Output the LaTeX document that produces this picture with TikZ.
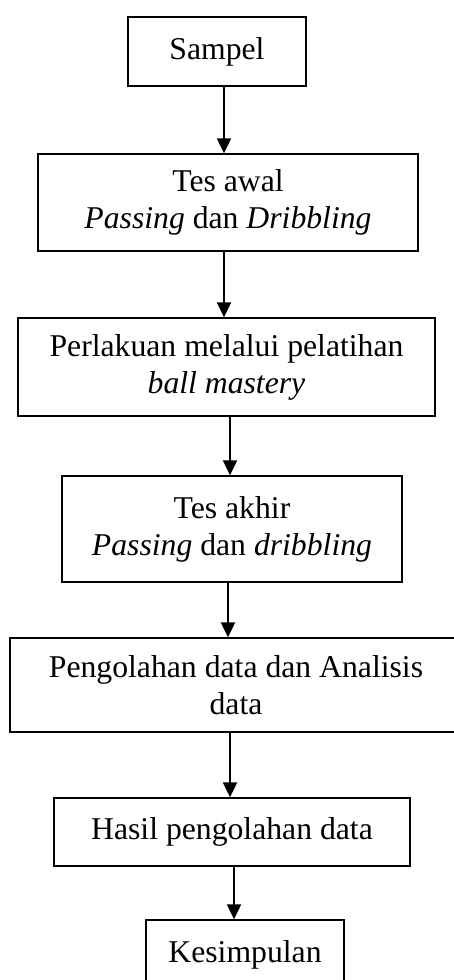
\documentclass[tikz,border=0pt]{standalone}
\usepackage{fontspec}
\setmainfont{Liberation Serif}
\usepackage{tikz}
\usetikzlibrary{arrows.meta}
\usetikzlibrary{shapes,positioning}
\tikzset{>={Triangle[length=15pt,width=14pt]},
  kotak/.style={draw,line width=1.3pt,inner sep=0pt,align=center,
    font=\fontsize{31.7pt}{37pt}\selectfont},
  panah/.style={->,line width=2pt}}

\begin{document}
\begin{tikzpicture}[x=1pt,y=1pt]
    \path[use as bounding box,clip] (0,0) rectangle (454,-980);
    \node (t1) [kotak,minimum width=178pt,minimum height=69pt] at (217,-51.5) {Sampel};
    \node (t2) [kotak,minimum width=380pt,minimum height=97pt] at (228,-202.5) {Tes awal\\\textit{Passing} dan \textit{Dribbling}};
    \node (t3) [kotak,minimum width=417pt,minimum height=98pt] at (226.5,-367) {Perlakuan melalui pelatihan\\\textit{ball mastery}};
    \node (t4) [kotak,minimum width=340pt,minimum height=106pt] at (232,-529) {Tes akhir\\\textit{Passing} dan \textit{dribbling}};
    \node (t5) [kotak,minimum width=452pt,minimum height=94pt] at (236,-685) {Pengolahan data dan Analisis\\data};
    \node (t6) [kotak,minimum width=356pt,minimum height=68pt] at (232,-832) {Hasil pengolahan data};
    \node (t7) [kotak,minimum width=198pt,minimum height=69pt] at (245,-954.5) {Kesimpulan};

    \draw[panah] ([xshift=7pt]t1.south) -- ([xshift=7pt]t1.south |- t2.north);
    \draw[panah] ([xshift=-4pt]t2.south) -- ([xshift=-4pt]t2.south |- t3.north);
    \draw[panah] ([xshift=3.5pt]t3.south) -- ([xshift=3.5pt]t3.south |- t4.north);
    \draw[panah] ([xshift=-4pt]t4.south) -- ([xshift=-4pt]t4.south |- t5.north);
    \draw[panah] ([xshift=-6pt]t5.south) -- ([xshift=-6pt]t5.south |- t6.north);
    \draw[panah] ([xshift=2pt]t6.south) -- ([xshift=2pt]t6.south |- t7.north);
  \end{tikzpicture}
\end{document}
